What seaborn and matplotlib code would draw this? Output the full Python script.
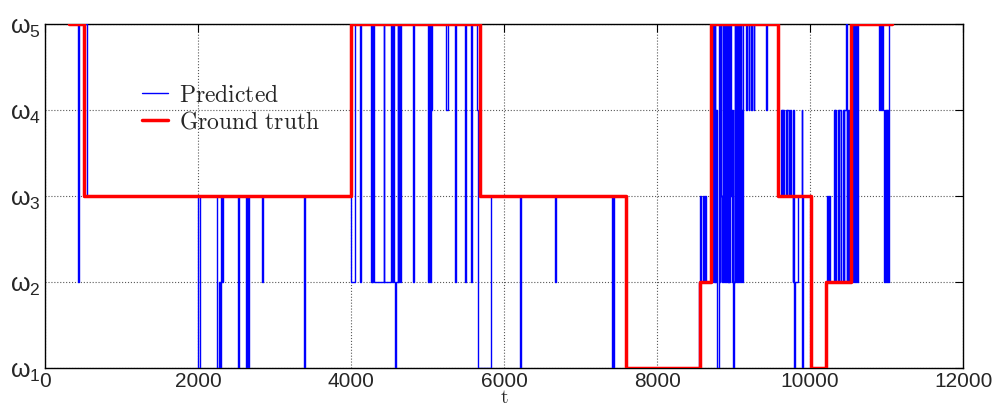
import matplotlib
matplotlib.use('Agg')
import matplotlib.pyplot as plt
import seaborn as sns
import pandas as pd

# ground truth state changes (t, state), drawn as steps
truth_t = [310, 510, 3995, 5690, 7595, 8560, 8705, 9575, 10012, 10210, 10535, 11075]
truth_v = [5, 3, 5, 3, 1, 2, 5, 3, 1, 2, 5, 5]

# predicted state changes (t, state)
pred_t = [
    420, 432, 448, 545,
    2000, 2022, 2250, 2268, 2282, 2295, 2312, 2326,
    2525, 2540, 2630, 2642, 2655, 2668, 2835, 2852, 3380, 3396,
    3996, 4057, 4114, 4126, 4258, 4268, 4276, 4286, 4296, 4425, 4437,
    4524, 4534, 4544, 4556, 4571, 4590, 4608, 4618, 4630, 4642, 4654,
    4808, 4822, 5004, 5020, 5030, 5040, 5046, 5062, 5244, 5262,
    5362, 5376, 5484, 5496, 5570, 5582, 5650, 5662, 5834,
    6205, 6222, 6665, 6678, 7405, 7418, 7425, 7436, 7595,
    8553, 8560, 8574, 8600, 8612, 8622, 8634, 8706,
    8712, 8721, 8729, 8737, 8745, 8753, 8761, 8770, 8778, 8786, 8805,
    8812, 8820, 8828, 8836, 8844, 8850, 8858, 8866, 8874, 8882, 8890,
    8898, 8906, 8914, 8922, 8930, 8938, 8946, 8954, 8962, 8970, 8976,
    8984, 8992, 8998, 9008, 9014, 9022, 9030, 9038, 9046, 9054, 9062,
    9068, 9076, 9084, 9092, 9100, 9108, 9118, 9126,
    9165, 9180, 9195, 9205, 9225, 9240, 9262, 9270, 9420, 9432, 9577,
    9620, 9628, 9634, 9642, 9650, 9665, 9685, 9694, 9702, 9730, 9738, 9745,
    9770, 9776, 9784, 9792, 9808, 9847, 9890, 9898, 9910, 10012,
    10208, 10222, 10232, 10245, 10258, 10310, 10320, 10326, 10334,
    10362, 10372, 10380, 10398, 10427, 10438, 10446, 10470, 10478, 10484,
    10500, 10506, 10514, 10535, 10560, 10572, 10585, 10598, 10612, 10625,
    10905, 10915, 10922, 10946, 10952, 10970, 10978, 10986, 10994, 11002,
    11010, 11018, 11026, 11034, 11075,
]
pred_v = [
    5, 2, 5, 3,
    1, 3, 1, 2, 1, 3, 2, 3,
    1, 3, 1, 3, 1, 3, 2, 3, 1, 3,
    2, 5, 2, 5, 2, 5, 2, 5, 2, 5, 2,
    5, 2, 5, 2, 1, 2, 5, 2, 5, 2, 5,
    2, 5, 2, 5, 2, 5, 4, 5, 4, 5,
    2, 5, 2, 5, 2, 5, 4, 1, 3,
    1, 3, 2, 3, 1, 3, 1, 3, 1,
    2, 3, 2, 3, 2, 3, 2, 5,
    2, 5, 2, 5, 2, 5, 2, 4, 2, 1, 2,
    5, 2, 5, 3, 2, 3, 5, 2, 5, 2, 5,
    2, 5, 2, 5, 2, 5, 2, 5, 4, 3, 4,
    2, 4, 1, 2, 5, 2, 5, 2, 5, 2, 4,
    2, 5, 2, 5, 4, 2, 4, 5,
    4, 5, 4, 5, 4, 5, 4, 5, 4, 5, 3,
    4, 3, 4, 3, 4, 3, 4, 3, 4, 3, 4, 3,
    2, 4, 2, 1, 2, 3, 4, 1, 3, 1,
    2, 3, 2, 3, 2, 4, 2, 4, 2,
    4, 2, 4, 2, 4, 2, 4, 5, 2, 4,
    2, 4, 2, 5, 2, 5, 2, 5, 2, 5,
    4, 5, 4, 5, 4, 2, 4, 2, 4, 2,
    4, 2, 4, 5, 5,
]
assert len(pred_t) == len(pred_v)

x_ticks = [0, 2000, 4000, 6000, 8000, 10000, 12000]
y_ticks = [1, 2, 3, 4, 5]
y_labels = [r'$\omega_%d$' % k for k in y_ticks]

sns.set_theme(style='white')
plt.rcParams['font.family'] = ['Liberation Sans', 'DejaVu Sans']
plt.rcParams['mathtext.default'] = 'regular'

fig = plt.figure(figsize=(9.96, 4.10), dpi=100)
ax = fig.add_axes([0.0452, 0.1, 0.9218, 0.839])

pred = pd.DataFrame({'t': pred_t, 'state': pred_v})
truth = pd.DataFrame({'t': truth_t, 'state': truth_v})

sns.lineplot(data=pred, x='t', y='state', drawstyle='steps-post',
             estimator=None, sort=False, color='blue', lw=1.0,
             label=r'$\mathrm{Predicted}$', ax=ax, zorder=3)
sns.lineplot(data=truth, x='t', y='state', drawstyle='steps-post',
             estimator=None, sort=False, color='red', lw=2.5,
             label=r'$\mathrm{Ground\ truth}$', ax=ax, zorder=4)

ax.set_xlim(0, 12000)
ax.set_ylim(1, 5)
ax.set_xticks(x_ticks)
ax.set_xticklabels([str(v) for v in x_ticks], fontsize=15)
ax.set_yticks(y_ticks)
ax.set_yticklabels(y_labels, fontsize=18)
ax.tick_params(direction='in', top=True, right=True, length=6, width=0.8,
               color='black', pad=3)
ax.tick_params(axis='x', pad=2)
ax.grid(True, linestyle=':', linewidth=0.8, color='0.35')
for sp in ax.spines.values():
    sp.set_color('black')
    sp.set_linewidth(1.0)

ax.set_xlabel(r'$\mathrm{t}$', fontsize=14, labelpad=-0.5, math_fontfamily='cm')
ax.set_ylabel('')

leg = ax.legend(loc='upper left', bbox_to_anchor=(0.1057, 0.825), frameon=False,
                fontsize=17, handlelength=1.1, handletextpad=0.45,
                labelspacing=0.2, borderpad=0, borderaxespad=0)
for txt in leg.get_texts():
    txt.set_math_fontfamily('cm')

fig.savefig('out.png', dpi=100)
